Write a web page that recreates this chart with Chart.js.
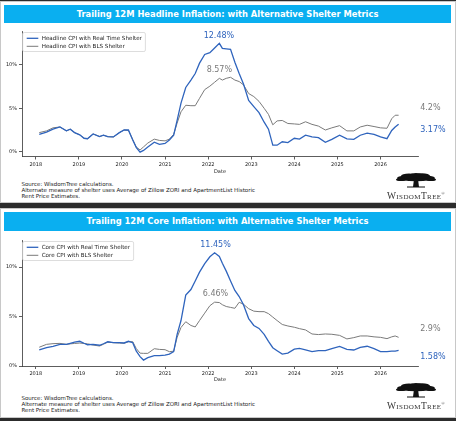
<!DOCTYPE html>
<html>
<head>
<meta charset="utf-8">
<script src="https://cdn.jsdelivr.net/npm/chart.js@4.4.1/dist/chart.umd.min.js"></script>
<style>
  body { margin: 0; width: 456px; height: 421px; background: #2c2c2c; overflow: hidden; position: relative; font-family: "DejaVu Sans", sans-serif; }
  .panel { position: absolute; left: 0; width: 456px; background: #fff; border: 1px solid #c8c8c8; box-sizing: border-box; }
  .bar { position: absolute; left: 4px; width: 447px; background: #0aaff0; color: #fff; font-weight: bold; font-size: 8.35px; text-align: center; }
  .note { position: absolute; left: 21.5px; font-size: 5.5px; line-height: 6.3px; color: #222; white-space: nowrap; }
  canvas { position: absolute; left: 0; }
  .logo { position: absolute; left: 382px; width: 68px; text-align: center; }
  .logo svg { display: block; margin: 0 auto; }
  .logo span { display: block; font-family: "Liberation Serif", serif; font-variant: small-caps; font-size: 9.5px; letter-spacing: 0.4px; color: #333; line-height: 9px; margin-top: 1px; }
</style>
</head>
<body>
<div class="panel" style="top:1px;height:202px"></div>
<div class="panel" style="top:208px;height:210px"></div>

<div class="bar" style="top:5px;height:18px;line-height:18px">Trailing 12M Headline Inflation: with Alternative Shelter Metrics</div>
<div class="bar" style="top:212px;height:19px;line-height:19px">Trailing 12M Core Inflation: with Alternative Shelter Metrics</div>

<canvas id="headline" width="456" height="152" style="top:25px"></canvas>
<canvas id="core" width="456" height="152" style="top:232px"></canvas>

<div class="note" style="top:180.5px">Source: WisdomTree calculations.<br>Alternate measure of shelter uses Average of Zillow ZORI and ApartmentList Historic<br>Rent Price Estimates.</div>
<div class="note" style="top:394.5px">Source: WisdomTree calculations.<br>Alternate measure of shelter uses Average of Zillow ZORI and ApartmentList Historic<br>Rent Price Estimates.</div>

<div class="logo" style="top:173px">
  <svg width="42" height="15" viewBox="0 0 42 15"><g fill="#111"><ellipse cx="21" cy="5" rx="19" ry="3.2"/><ellipse cx="14" cy="3" rx="8" ry="2.6"/><ellipse cx="27" cy="3" rx="8" ry="2.8"/><ellipse cx="21" cy="2" rx="6" ry="2"/><ellipse cx="6" cy="6.5" rx="5" ry="1.6"/><ellipse cx="36" cy="6.5" rx="5" ry="1.6"/><polygon points="19,6 23,6 24,14 18,14"/><rect x="12" y="13.5" width="18" height="1"/></g></svg>
  <span>WisdomTree<sup style="font-size:4px">®</sup></span>
</div>
<div class="logo" style="top:382.5px">
  <svg width="42" height="15" viewBox="0 0 42 15"><g fill="#111"><ellipse cx="21" cy="5" rx="19" ry="3.2"/><ellipse cx="14" cy="3" rx="8" ry="2.6"/><ellipse cx="27" cy="3" rx="8" ry="2.8"/><ellipse cx="21" cy="2" rx="6" ry="2"/><ellipse cx="6" cy="6.5" rx="5" ry="1.6"/><ellipse cx="36" cy="6.5" rx="5" ry="1.6"/><polygon points="19,6 23,6 24,14 18,14"/><rect x="12" y="13.5" width="18" height="1"/></g></svg>
  <span>WisdomTree<sup style="font-size:4px">®</sup></span>
</div>

<script>
// Sample dates (decimal years), shared by both panels
const dates = [
  2018.08, 2018.25, 2018.4, 2018.56, 2018.71, 2018.8, 2018.9, 2019.02, 2019.12, 2019.2,
  2019.33, 2019.48, 2019.57, 2019.67, 2019.8, 2019.94, 2020.05, 2020.15, 2020.25, 2020.33,
  2020.42, 2020.5, 2020.6, 2020.75, 2020.87, 2021.0, 2021.1, 2021.2, 2021.28, 2021.37,
  2021.48, 2021.6, 2021.7, 2021.8, 2021.92, 2022.04, 2022.15, 2022.26, 2022.33, 2022.42,
  2022.52, 2022.62, 2022.72, 2022.82, 2022.94, 2023.06, 2023.18, 2023.3, 2023.4, 2023.5,
  2023.6, 2023.72, 2023.85, 2024.0, 2024.12, 2024.26, 2024.41, 2024.56, 2024.72, 2024.87,
  2025.05, 2025.22, 2025.38, 2025.53, 2025.69, 2025.85, 2026.0, 2026.15, 2026.26, 2026.34,
  2026.42
];

// Headline CPI, % y/y
const headlineRealTime = [
  2.0, 2.25, 2.6, 2.85, 2.4, 2.6, 2.2, 1.95, 1.55, 1.5,
  2.05, 1.75, 1.9, 1.73, 1.7, 2.2, 2.5, 2.5, 1.35, 0.5,
  -0.05, 0.15, 0.55, 1.1, 0.85, 0.95, 1.35, 1.9, 3.6, 5.6,
  7.4, 8.25, 9.0, 10.2, 11.2, 11.4, 11.95, 12.48, 11.9, 11.85,
  11.8, 10.3, 9.0, 7.8, 5.9, 5.2, 4.5, 3.4, 2.6, 0.75,
  0.75, 1.15, 1.05, 1.55, 1.45, 1.9, 1.7, 1.62, 1.08, 1.42,
  1.9, 1.48, 1.42, 1.9, 2.15, 2.0, 1.7, 1.5, 2.45, 2.85,
  3.17
];
const headlineBLS = [
  2.2, 2.4, 2.75, 2.85, 2.4, 2.6, 2.2, 1.95, 1.55, 1.5,
  2.05, 1.75, 1.9, 1.73, 1.7, 2.2, 2.5, 2.45, 1.4, 0.55,
  0.2, 0.55, 1.0, 1.45, 1.3, 1.25, 1.45, 2.0, 3.3, 4.6,
  5.35, 5.3, 5.3, 6.15, 7.15, 7.55, 8.0, 8.45, 8.25, 8.45,
  8.57, 8.25, 8.08, 7.7, 6.7, 6.35, 5.8, 5.0, 4.3, 3.1,
  3.55, 3.6, 3.25, 3.2, 3.15, 3.45, 3.15, 2.95, 2.5, 2.75,
  3.0, 2.4, 2.4, 2.85, 3.05, 2.9, 2.75, 2.7, 3.8, 4.2,
  4.2
];

// Core CPI, % y/y
const coreRealTime = [
  1.62, 1.85, 1.99, 2.19, 2.19, 2.3, 2.42, 2.5, 2.3, 2.15,
  2.19, 2.1, 2.25, 2.45, 2.36, 2.36, 2.33, 2.5, 2.36, 1.52,
  0.95, 0.6, 0.84, 1.05, 1.05, 1.1, 1.2, 1.45, 3.2, 4.6,
  7.17, 7.74, 8.6, 9.5, 10.35, 11.05, 11.45, 11.08, 10.4, 9.6,
  8.6, 7.65, 7.03, 6.2, 4.8, 4.1, 3.8, 3.2, 2.5, 1.85,
  1.55, 1.2, 1.3, 1.7, 1.78, 1.62, 1.45, 1.55, 1.55, 1.76,
  1.98, 1.69, 1.62, 1.89, 2.0, 1.75, 1.45, 1.45, 1.5, 1.5,
  1.58
];
const coreBLS = [
  1.9, 2.19, 2.26, 2.29, 2.19, 2.24, 2.28, 2.32, 2.28, 2.24,
  2.12, 2.02, 2.2, 2.42, 2.36, 2.32, 2.3, 2.46, 2.46, 1.78,
  1.3, 1.28, 1.28, 1.75, 1.68, 1.65, 1.45, 1.5, 2.9, 3.9,
  4.48, 4.1, 3.95, 4.6, 5.35, 6.1, 6.46, 6.42, 6.2, 6.02,
  5.93, 5.84, 6.45, 6.25, 5.8, 5.55, 5.5, 5.5, 5.3, 4.95,
  4.6, 4.2, 4.05, 3.92, 3.78, 3.65, 3.24, 3.18, 3.24, 3.21,
  3.1, 2.74, 2.87, 3.04, 3.04, 2.95, 2.9, 2.77, 2.95, 3.04,
  2.9
];

const BLUE = '#2f64bd';
const GRAY = '#7a7a7a';
const FONT = 'DejaVu Sans';

function pairs(vals) {
  return dates.map((d, i) => ({ x: d, y: vals[i] }));
}

// legend box inside the plot + value labels
const legendAndLabels = {
  id: 'legendAndLabels',
  afterDraw(chart, args, opts) {
    const ctx = chart.ctx;
    const area = chart.chartArea;
    const xs = chart.scales.x, ys = chart.scales.y;
    ctx.save();
    ctx.font = '5.6px "' + FONT + '"';
    const names = chart.data.datasets.map(d => d.label);
    const textW = Math.max(...names.map(n => ctx.measureText(n).width));
    const bx = area.left + 0.7, by = area.top + 1.5;
    const bw = 19 + textW + 3.5, bh = 19;
    ctx.fillStyle = 'rgba(255,255,255,0.85)';
    ctx.strokeStyle = '#d4d4d4';
    ctx.lineWidth = 0.8;
    ctx.beginPath();
    ctx.roundRect(bx, by, bw, bh, 1.5);
    ctx.fill();
    ctx.stroke();
    chart.data.datasets.forEach((ds, i) => {
      const ry = by + 5.8 + i * 8;
      ctx.strokeStyle = ds.borderColor;
      ctx.lineWidth = ds.borderWidth;
      ctx.beginPath();
      ctx.moveTo(bx + 4, ry);
      ctx.lineTo(bx + 15.6, ry);
      ctx.stroke();
      ctx.fillStyle = '#222';
      ctx.textAlign = 'left';
      ctx.textBaseline = 'middle';
      ctx.fillText(ds.label, bx + 19, ry);
    });
    ctx.font = '8px "' + FONT + '"';
    opts.labels.forEach(l => {
      ctx.fillStyle = l.color;
      ctx.textAlign = l.align;
      ctx.textBaseline = 'middle';
      ctx.fillText(l.text, xs.getPixelForValue(l.x), ys.getPixelForValue(l.y));
    });
    ctx.restore();
  }
};

function makeChart(id, names, realTime, bls, cfg) {
  const tickFont = { family: FONT, size: 5 };
  return new Chart(document.getElementById(id), {
    type: 'line',
    data: {
      datasets: [
        { label: names[0], data: pairs(realTime), borderColor: BLUE, borderWidth: 1.3, pointRadius: 0, tension: 0 },
        { label: names[1], data: pairs(bls), borderColor: GRAY, borderWidth: 1, pointRadius: 0, tension: 0 }
      ]
    },
    options: {
      responsive: false,
      animation: false,
      devicePixelRatio: 1,
      layout: { padding: { top: cfg.top, right: 38, left: 0, bottom: 0 } },
      plugins: {
        legend: { display: false },
        tooltip: { enabled: false },
        legendAndLabels: { labels: cfg.labels }
      },
      scales: {
        x: {
          type: 'linear', min: 2017.68, max: 2026.87,
          afterFit: s => { s.height = cfg.xHeight; },
          ticks: { stepSize: 1, includeBounds: false, autoSkip: false, maxRotation: 0, padding: 2, color: '#222', font: tickFont, callback: v => String(v) },
          grid: { drawOnChartArea: false, tickLength: 3, color: '#333', lineWidth: 0.8 },
          border: { color: '#333', width: 0.8 },
          title: { display: true, text: 'Date', color: '#222', font: tickFont, padding: { top: 0, bottom: cfg.titlePad } }
        },
        y: {
          min: cfg.yMin, max: cfg.yMax,
          afterFit: s => { s.width = 22; },
          ticks: { stepSize: 5, includeBounds: false, padding: 2, color: '#222', font: tickFont, callback: v => v + '%' },
          grid: { drawOnChartArea: false, tickLength: 3, color: '#333', lineWidth: 0.8 },
          border: { color: '#333', width: 0.8 }
        }
      }
    },
    plugins: [legendAndLabels]
  });
}

makeChart('headline',
  ['Headline CPI with Real Time Shelter', 'Headline CPI with BLS Shelter'],
  headlineRealTime, headlineBLS,
  {
    top: 6, xHeight: 20.5, titlePad: 2.5, yMin: -0.55, yMax: 13.9,
    labels: [
      { text: '12.48%', x: 2022.25, y: 13.28, color: BLUE, align: 'center' },
      { text: '8.57%', x: 2022.26, y: 9.43, color: GRAY, align: 'center' },
      { text: '4.2%', x: 2026.92, y: 5.0, color: GRAY, align: 'left' },
      { text: '3.17%', x: 2026.92, y: 2.47, color: BLUE, align: 'left' }
    ]
  });

makeChart('core',
  ['Core CPI with Real Time Shelter', 'Core CPI with BLS Shelter'],
  coreRealTime, coreBLS,
  {
    top: 8, xHeight: 18, titlePad: 1, yMin: 0, yMax: 12.75,
    labels: [
      { text: '11.45%', x: 2022.17, y: 12.26, color: BLUE, align: 'center' },
      { text: '6.46%', x: 2022.17, y: 7.29, color: GRAY, align: 'center' },
      { text: '2.9%', x: 2026.92, y: 3.72, color: GRAY, align: 'left' },
      { text: '1.58%', x: 2026.92, y: 0.88, color: BLUE, align: 'left' }
    ]
  });
</script>
</body>
</html>
